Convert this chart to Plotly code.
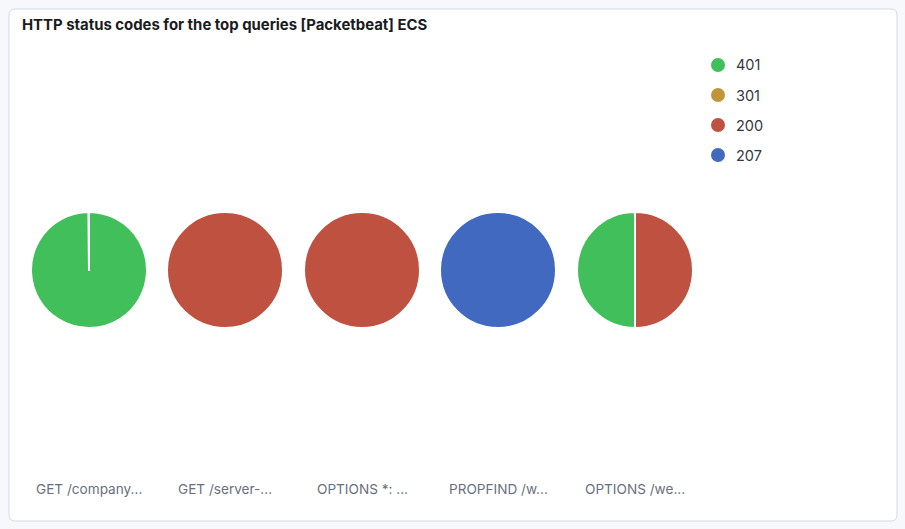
import plotly.graph_objects as go

W, H = 905, 529

title = "HTTP status codes for the top queries [Packetbeat] ECS"
queries = ["GET /company...", "GET /server-...", "OPTIONS *: ...", "PROPFIND /w...", "OPTIONS /we..."]
status_codes = ["401", "301", "200", "207"]
colors = {"401": "#41BF5A", "301": "#C0963C", "200": "#BE5140", "207": "#4169C0"}

# counts per query, per status code
values_401 = [1000, 0, 0, 0, 1]
values_301 = [1, 0, 0, 0, 0]
values_200 = [0, 1, 1, 0, 1]
values_207 = [0, 0, 0, 1, 0]
series = {"401": values_401, "301": values_301, "200": values_200, "207": values_207}
slice_order = ["200", "401", "301", "207"]

fig = go.Figure()

centers_x = [89, 225, 362, 498, 635]
cy = 270
r = 58

for i, q in enumerate(queries):
    labels = [s for s in slice_order if series[s][i] > 0]
    vals = [series[s][i] for s in labels]
    cx = centers_x[i]
    fig.add_trace(go.Pie(
        labels=labels, values=vals,
        marker=dict(colors=[colors[s] for s in labels], line=dict(color="white", width=2)),
        textinfo="none", hoverinfo="label+value+percent",
        sort=False, direction="clockwise", rotation=0,
        showlegend=False, name=q,
        domain=dict(x=[(cx - r) / W, (cx + r) / W], y=[(H - cy - r) / H, (H - cy + r) / H]),
    ))
    fig.add_annotation(x=cx / W, y=(H - 489) / H, xref="paper", yref="paper",
                       text=q, showarrow=False, xanchor="center", yanchor="middle",
                       font=dict(family="Inter", size=13.6, color="#69707D"))

shapes = [
    dict(type="path", xref="paper", yref="paper",
         path="M {a},{b} L {c},{b} Q {d},{b} {d},{e} L {d},{f} Q {d},{g} {c},{g} L {a},{g} Q {h},{g} {h},{f} L {h},{e} Q {h},{b} {a},{b} Z".format(
             a=15 / W, b=1 - 9 / H, c=891 / W, d=897 / W, e=1 - 15 / H, f=1 - 515 / H, g=1 - 521 / H, h=9 / W),
         fillcolor="white", line=dict(color="#D3DAE6", width=1), layer="below"),
]

for j, s in enumerate(status_codes):
    ly = 65 + 30 * j
    shapes.append(dict(type="circle", xref="paper", yref="paper",
                       x0=711 / W, x1=725 / W, y0=(H - ly - 7) / H, y1=(H - ly + 7) / H,
                       fillcolor=colors[s], line=dict(width=0)))
    fig.add_annotation(x=734 / W, y=(H - ly) / H, xref="paper", yref="paper",
                       text=s, showarrow=False, xanchor="left", yanchor="middle",
                       font=dict(family="Inter", size=14.5, color="#343741"))

fig.add_annotation(x=20 / W, y=(H - 25) / H, xref="paper", yref="paper",
                   text="<b>" + title + "</b>", showarrow=False, xanchor="left", yanchor="middle",
                   font=dict(family="Inter", size=14.9, color="#1A1C21"))

fig.update_layout(
    width=W, height=H, margin=dict(l=0, r=0, t=0, b=0),
    paper_bgcolor="#F7F8FC", plot_bgcolor="white",
    shapes=shapes, showlegend=False,
)

fig.write_html("out.html", config={"displayModeBar": False},
               post_script="document.body.style.margin='0';document.body.style.background='#F7F8FC';document.body.style.overflow='hidden';")
